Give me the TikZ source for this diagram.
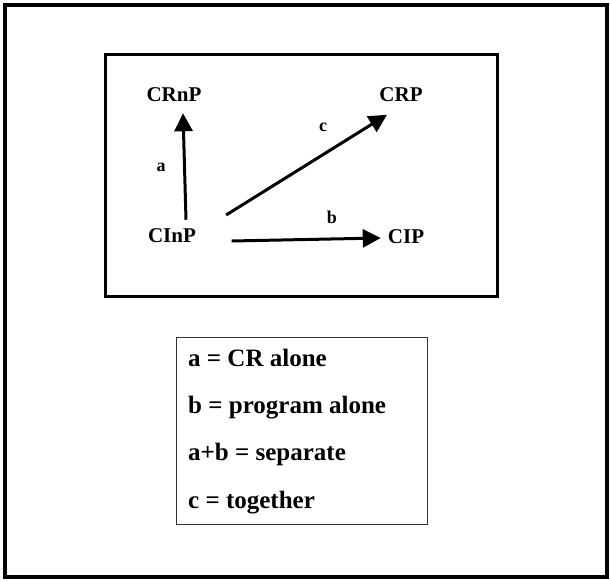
\documentclass[tikz,border=0pt]{standalone}
\usepackage{fontspec}
\setmainfont{Liberation Serif}
\usetikzlibrary{arrows.meta}

\begin{document}
\begin{tikzpicture}[x=1pt,y=-1pt]
	
	% Stile
	\tikzset{
		every node/.style={font=\fontsize{21pt}{25pt}\selectfont\bfseries, inner sep=3pt},
		pfeil/.style={line width=3pt, -{Triangle[length=18pt,width=18pt]}},
		marke/.style={font=\fontsize{18pt}{22pt}\selectfont\bfseries, inner sep=0pt},
		legende/.style={font=\fontsize{25pt}{29pt}\selectfont\bfseries, anchor=base west, inner sep=0pt}
	}
	\useasboundingbox (0,0) rectangle (610,581);
	
	% Rahmen aussen
	\draw[line width=3.5pt] (5,5) rectangle (607,577);
	
	% Kasten mit den Zustaenden
	\draw[line width=3.5pt] (105.5,54.5) rectangle (497.5,296.5);
	\node (CRnP) at (174,95) {CRnP};
	\node (CRP) at (401,95) {CRP};
	\node (CInP) at (172,236) {CInP};
	\node (CIP) at (406,237) {CIP};
	
	% Pfeile
	\draw[pfeil] ([shift={(14,-6)}]CInP.north) -- ([shift={(9,8)}]CRnP.south);
	\draw[pfeil] ([shift={(27,-21)}]CInP.east) -- ([shift={(-14,9.5)}]CRP.south);
	\draw[pfeil] ([shift={(32.5,5)}]CInP.east) -- ([shift={(-4,1)}]CIP.west);
	\node[marke] (la) at (161,167) {a};
	\node[marke] (lb) at (332,217) {b};
	\node[marke] (lc) at (323,127) {c};
	
	% Legende
	\draw[line width=1pt, black!80] (176.5,337) rectangle (427,524);
	\node[legende] (leg1) at (188,366) {a = CR alone};
	\node[legende] (leg2) at (188,413) {b = program alone};
	\node[legende] (leg3) at (188,460) {a+b = separate};
	\node[legende] (leg4) at (188,508) {c = together};
	
\end{tikzpicture}
\end{document}
